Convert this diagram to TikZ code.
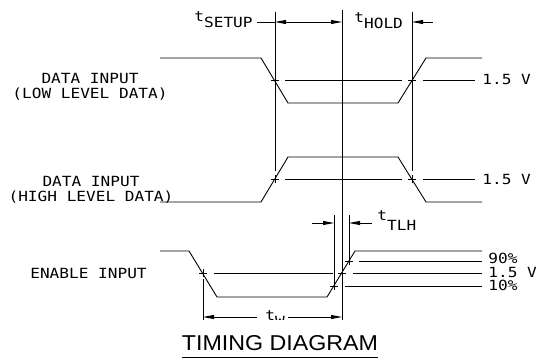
\documentclass[tikz,border=0pt]{standalone}
\usepackage{fontspec}
\newfontfamily\plotfont[FakeStretch=1.15]{DejaVu Sans Mono}
\newfontfamily\titlefont[FakeStretch=1.08]{Liberation Sans}
\usetikzlibrary{calc, arrows.meta}

\begin{document}
\begin{tikzpicture}[x=1pt, y=-1pt, line width=0.9pt,
  wave/.style={line join=miter},
  dimarr/.style={-{Triangle[length=11pt, width=4pt]}},
  lbl/.style={font=\plotfont\fontsize{14}{15}\selectfont, inner sep=0pt}]

% page frame, pixel units with y downwards
\useasboundingbox (0,0) rectangle (537,358);

% cross mark at a threshold crossing
\def\crossat#1{\draw ([xshift=-4pt]#1) -- ([xshift=4pt]#1) ([yshift=-4pt]#1) -- ([yshift=4pt]#1);}

% crossing points
\coordinate (S1) at (275,80);   % data low, falling
\coordinate (H1) at (412,80);   % data low, rising
\coordinate (S2) at (275,179);  % data high, rising
\coordinate (H2) at (412,179);  % data high, falling
\coordinate (EF) at (203,273);  % enable falling
\coordinate (E10) at (334,286); % enable rising, 10%
\coordinate (E50) at (342,273); % enable rising, 1.5 V
\coordinate (E90) at (349,261); % enable rising, 90%

% data input (low level data)
\draw[wave] (160,58) -- (261,58) -- (288,103) -- (398,103) -- (426,58) -- (482,58);
\draw (285,80) -- (402,80) (423,80) -- (475,80);
\crossat{S1} \crossat{H1}
\node[lbl, anchor=north, align=center] (lowtxt) at (90,72.8) {DATA INPUT\\(LOW LEVEL DATA)};
\node[lbl, anchor=base west] (lowv) at (482,85) {1.5 V};

% data input (high level data)
\draw[wave] (160,202) -- (261,202) -- (288,157) -- (398,157) -- (426,202) -- (482,202);
\draw (285,179) -- (402,179) (423,179) -- (475,179);
\crossat{S2} \crossat{H2}
\node[lbl, anchor=north, align=center] (hightxt) at (91,175.5) {DATA INPUT\\(HIGH LEVEL DATA)};
\node[lbl, anchor=base west] (highv) at (482,184) {1.5 V};

% enable input
\draw[wave] (160,251) -- (189,251) -- (217,297) -- (327,297) -- (355,251) -- (482,251);
\draw (214,273) -- (333,273) (353,273) -- (482,273);
\draw (359,261) -- (482,261);
\draw (345,286) -- (482,286);
\crossat{EF} \crossat{E10} \crossat{E50} \crossat{E90}
\node[lbl, anchor=base] (entxt) at (88.5,278) {ENABLE INPUT};
\node[lbl, anchor=base west] (en90) at (488,263) {90\%};
\node[lbl, anchor=base west] (en50) at (488,277) {1.5 V};
\node[lbl, anchor=base west] (en10) at (488,290) {10\%};

% extension lines
\draw (275,12) -- (275,171);
\draw (412,12) -- (412,171);
\draw (342,10) -- (342,320);
\draw (203,279) -- (203,320);
\draw (334,215) -- (334,282);
\draw (349,215) -- (349,257);

% setup and hold
\coordinate (sA) at (275,22);
\coordinate (sB) at (342,22);
\draw[dimarr] (309,22) -- (sA);
\draw[dimarr] (309,22) -- (sB);
\draw (257,22) -- (sA);
\draw[dimarr] (433,22) -- (412,22);
\node[lbl, anchor=base west] (tsu) at (194,22) {t\raisebox{-6pt}{SETUP}};
\node[lbl, anchor=base west] (th) at (354,23) {t\raisebox{-6pt}{HOLD}};

% transition time
\draw[dimarr] (312,223) -- (334,223);
\draw[dimarr] (372,223) -- (349,223);
\node[lbl, anchor=base west] (ttlh) at (377,220) {t\raisebox{-10pt}{TLH}};

% pulse width
\draw[dimarr] (257,317) -- (203,317);
\draw[dimarr] (288,317) -- (342,317);
\begin{scope}
  \clip (250,300) rectangle (290,319.5);
  \node[lbl, anchor=base west] (tw) at (265,320) {t\raisebox{-6pt}{W}};
\end{scope}

% title
\node[font=\titlefont\fontsize{21.5}{24}\selectfont, inner sep=0pt, anchor=base] (title) at (280,350) {TIMING DIAGRAM};
\draw[line width=1pt] ([yshift=-7pt]title.base west) -- ([yshift=-7pt]title.base east);

\end{tikzpicture}
\end{document}
